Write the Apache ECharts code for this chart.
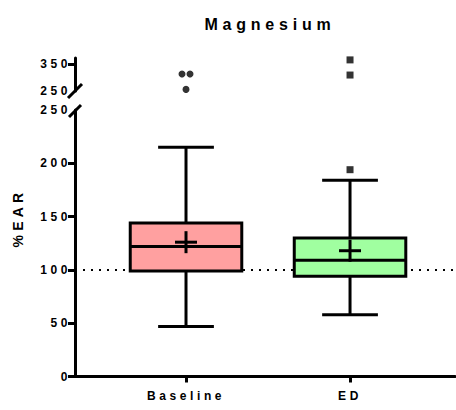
<!DOCTYPE html>
<html>
<head>
<meta charset="utf-8">
<script src="https://cdn.jsdelivr.net/npm/echarts@6/dist/echarts.min.js"></script>
<style>
html,body{margin:0;padding:0;background:#fff;}
#chart{width:456px;height:410px;}
#chart svg text{letter-spacing:0.3em;}
</style>
</head>
<body>
<div id="chart"></div>
<script>
// ---- data ----
const categories = ['Baseline', 'ED'];
const whiskerLow = [47, 58];
const q1 = [99, 94];
const median = [122, 109];
const q3 = [144, 130];
const whiskerHigh = [215, 184];
const means = [126, 118];
const outliersBaseline = [313, 313, 256];
const outliersED = [365, 309, 194];
const lowerTicks = [0, 50, 100, 150, 200, 250];
const upperTicks = [250, 350];
const referenceLine = 100;

// ---- styles ----
const boxColors = ['#FFA0A0', '#A0FFA0'];
const FONT = '"Liberation Sans", Arial, Helvetica, sans-serif';
const xMin = 0.3232, xMax = 2.640;
const boxW = 0.68, capW = 0.34;
const breakValue = 250;

const chart = echarts.init(document.getElementById('chart'), null, {renderer: 'svg'});

const boxData = categories.map((c, i) => [i + 1, whiskerLow[i], q1[i], median[i], q3[i], whiskerHigh[i], means[i]]);

function renderBox(params, api) {
  const x = api.value(0);
  const lo = api.coord([x, api.value(1)]);
  const p1 = api.coord([x, api.value(2)]);
  const md = api.coord([x, api.value(3)]);
  const p3 = api.coord([x, api.value(4)]);
  const hi = api.coord([x, api.value(5)]);
  const mn = api.coord([x, api.value(6)]);
  const bw = api.size([boxW, 0])[0];
  const cw = api.size([capW, 0])[0];
  const cx = lo[0];
  const ls = {stroke: '#000', lineWidth: 3};
  const line = (x1, y1, x2, y2) => ({type: 'line', shape: {x1, y1, x2, y2}, style: ls});
  const plus = 11;
  return {
    type: 'group',
    children: [
      line(cx, lo[1], cx, p1[1]),
      line(cx, p3[1], cx, hi[1]),
      line(cx - cw / 2, lo[1], cx + cw / 2, lo[1]),
      line(cx - cw / 2, hi[1], cx + cw / 2, hi[1]),
      {type: 'rect', shape: {x: cx - bw / 2, y: p3[1], width: bw, height: p1[1] - p3[1]},
        style: {fill: boxColors[params.dataIndex], stroke: '#000', lineWidth: 3}},
      line(cx - bw / 2, md[1], cx + bw / 2, md[1]),
      line(cx - plus, mn[1], cx + plus, mn[1]),
      line(cx, mn[1] - plus, cx, mn[1] + plus)
    ]
  };
}

const labelStyle = {color: '#000', fontFamily: FONT, fontWeight: 'bold', fontSize: 12};

function upperPts(arr, xi, offsets) {
  const out = [];
  arr.forEach((v, k) => {
    if (v > breakValue) {
      const item = {value: [xi, v]};
      if (offsets && offsets[k]) item.symbolOffset = offsets[k];
      out.push(item);
    }
  });
  return out;
}
function lowerPts(arr, xi) {
  return arr.filter(v => v <= breakValue).map(v => [xi, v]);
}

const baseOffsets = [[-4, 0], [4, 0], null];

chart.setOption({
  animation: false,
  title: {
    text: 'Magnesium', left: 265, top: 11, textAlign: 'center',
    textStyle: {color: '#000', fontFamily: FONT, fontWeight: 'bold', fontSize: 16}
  },
  grid: [
    {left: 75, right: 1, top: 58, height: 33},
    {left: 75, right: 1, top: 110, height: 266.5}
  ],
  xAxis: [
    {gridIndex: 0, type: 'value', min: xMin, max: xMax, show: false},
    {gridIndex: 1, type: 'value', min: xMin, max: xMax, z: 10,
      axisLine: {show: true, lineStyle: {color: '#000', width: 3}},
      axisTick: {show: true, customValues: [1, 2], length: 6, lineStyle: {color: '#000', width: 3}},
      axisLabel: Object.assign({customValues: [1, 2], margin: 13, formatter: v => categories[Math.round(v) - 1]}, labelStyle),
      splitLine: {show: false}}
  ],
  yAxis: [
    {gridIndex: 0, type: 'value', min: 250, max: 372,
      axisLine: {show: true, lineStyle: {color: '#000', width: 3}},
      axisTick: {show: true, customValues: [350], length: 7, lineStyle: {color: '#000', width: 3}},
      axisLabel: Object.assign({customValues: upperTicks, margin: 4}, labelStyle),
      splitLine: {show: false}},
    {gridIndex: 1, type: 'value', min: 0, max: 250, interval: 50, z: 10,
      axisLine: {show: true, lineStyle: {color: '#000', width: 3}},
      axisTick: {show: true, customValues: lowerTicks.filter(v => v < 250), length: 7, lineStyle: {color: '#000', width: 3}},
      axisLabel: Object.assign({customValues: lowerTicks, margin: 4}, labelStyle),
      splitLine: {show: false}}
  ],
  graphic: [
    {type: 'line', shape: {x1: 68, y1: 98, x2: 82, y2: 84}, style: {stroke: '#000', lineWidth: 3}},
    {type: 'line', shape: {x1: 69, y1: 117, x2: 81, y2: 105}, style: {stroke: '#000', lineWidth: 3}},
    {type: 'text', x: 18, y: 218, rotation: Math.PI / 2,
      style: {text: '%EAR', fill: '#000', font: 'bold 14px ' + FONT, textAlign: 'center', textVerticalAlign: 'middle'}}
  ],
  series: [
    {type: 'line', xAxisIndex: 1, yAxisIndex: 1, data: [], z: 1,
      markLine: {silent: true, z: 1, symbol: 'none', label: {show: false},
        lineStyle: {color: '#000', width: 2, type: [2, 6]},
        data: [{yAxis: referenceLine}]}},
    {type: 'custom', xAxisIndex: 1, yAxisIndex: 1, z: 6, data: boxData, renderItem: renderBox},
    {type: 'scatter', xAxisIndex: 0, yAxisIndex: 0, symbol: 'circle', symbolSize: 7,
      itemStyle: {color: '#000'}, data: upperPts(outliersBaseline, 1, baseOffsets)},
    {type: 'scatter', xAxisIndex: 0, yAxisIndex: 0, symbol: 'rect', symbolSize: 7,
      itemStyle: {color: '#000'}, data: upperPts(outliersED, 2)},
    {type: 'scatter', xAxisIndex: 1, yAxisIndex: 1, symbol: 'circle', symbolSize: 7, z: 7,
      itemStyle: {color: '#000'}, data: lowerPts(outliersBaseline, 1)},
    {type: 'scatter', xAxisIndex: 1, yAxisIndex: 1, symbol: 'rect', symbolSize: 7, z: 7,
      itemStyle: {color: '#000'}, data: lowerPts(outliersED, 2)}
  ]
});
</script>
</body>
</html>
